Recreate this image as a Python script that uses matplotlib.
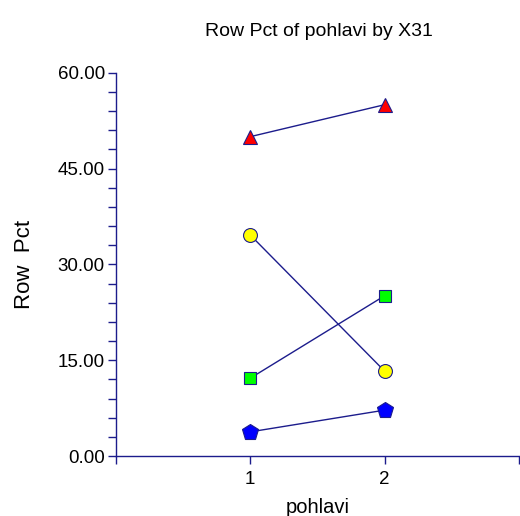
import matplotlib
matplotlib.use('Agg')
import matplotlib.pyplot as plt
from matplotlib.ticker import MultipleLocator, FixedLocator

plt.rcParams['font.family'] = ['Liberation Sans', 'DejaVu Sans']

# data
x_vals = [1, 2]
series = {
    'tri': [50.0, 55.0],
    'circ': [34.6, 13.3],
    'sq': [12.2, 25.1],
    'pent': [3.8, 7.2],
}
markers = {'tri': '^', 'circ': 'o', 'sq': 's', 'pent': 'p'}
fills = {'tri': '#ff0000', 'circ': '#ffff00', 'sq': '#00ff00', 'pent': '#0000ff'}
sizes = {'tri': 10, 'circ': 10, 'sq': 9, 'pent': 12}

navy = '#1c1c8c'

fig = plt.figure(figsize=(5.2, 5.16), dpi=100)
ax = fig.add_axes([0.223, 0.116, 0.775, 0.743])

for k, ys in series.items():
    ax.plot(x_vals, ys, color=navy, lw=1, marker=markers[k],
            markersize=sizes[k], markerfacecolor=fills[k],
            markeredgecolor=navy, markeredgewidth=0.8, clip_on=False)

ax.set_xlim(0, 3)
ax.set_ylim(0, 60)
ax.xaxis.set_major_locator(FixedLocator([0, 1, 2, 3]))
ax.set_xticklabels(['', '1', '2', ''])
ax.yaxis.set_major_locator(MultipleLocator(15))
ax.yaxis.set_minor_locator(MultipleLocator(3))
ax.yaxis.set_major_formatter(plt.FuncFormatter(lambda v, p: f'{v:.2f}'))

for s in ['top', 'right']:
    ax.spines[s].set_visible(False)
for s in ['left', 'bottom']:
    ax.spines[s].set_color(navy)
    ax.spines[s].set_linewidth(1)

ax.tick_params(axis='both', which='both', direction='out', color=navy,
               labelsize=13.5, width=1)
ax.tick_params(axis='y', which='major', length=6, pad=2)
ax.tick_params(axis='y', which='minor', length=6)
ax.tick_params(axis='x', which='major', length=6, pad=5)

ax.set_xlabel('pohlavi', fontsize=14.5, labelpad=7)
ax.set_ylabel('Row  Pct', fontsize=16, labelpad=16)
fig.text(0.614, 0.93, 'Row Pct of pohlavi by X31', ha='center', fontsize=14)

fig.savefig('out.png', dpi=100)
